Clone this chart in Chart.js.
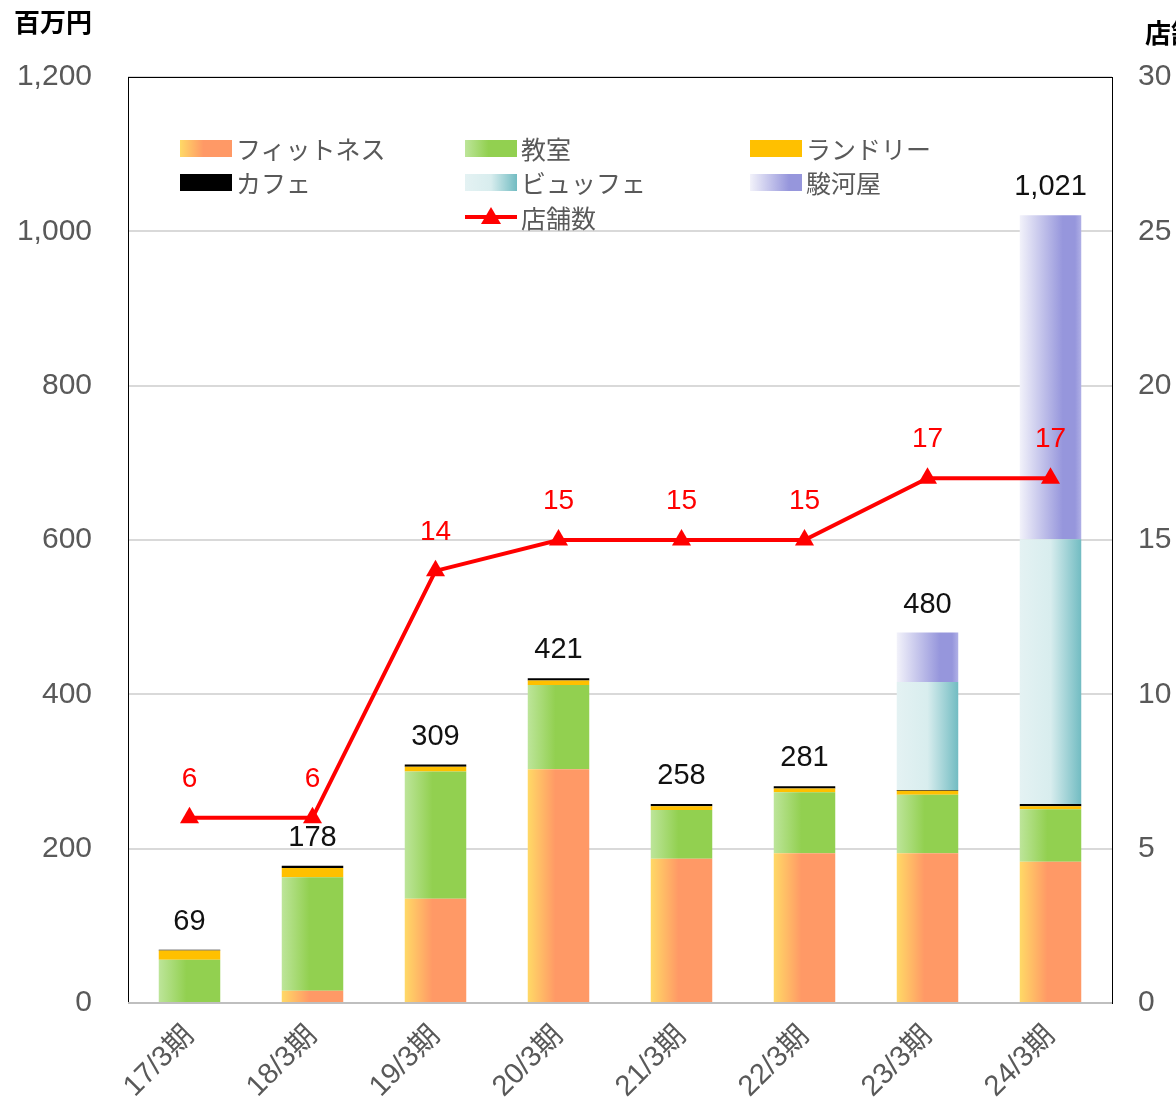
<!DOCTYPE html>
<html lang="ja">
<head>
<meta charset="utf-8">
<script src="https://cdn.jsdelivr.net/npm/chart.js@4/dist/chart.umd.min.js"></script>
<style>
  body { margin: 0; background: #fff; }
  #wrap { position: relative; width: 1176px; height: 1114px; overflow: hidden; }
  #legend { position: absolute; left: 0; top: 0; }
  .lg-item { position: absolute; display: flex; align-items: center; height: 30px;
    font-family: "Noto Sans CJK JP", "Noto Sans", sans-serif; font-size: 25px; color: #595959; line-height: 1; white-space: nowrap; }
  .lg-box { width: 52px; height: 17px; margin-right: 4px; }
  .lg-line { width: 52px; height: 30px; margin-right: 4px; }
</style>
</head>
<body>
<div id="wrap">
  <canvas id="chart" width="1176" height="1114"></canvas>
  <div id="legend"></div>
</div>
<script>
// periods and values (百万円)
const periods = ['17/3期', '18/3期', '19/3期', '20/3期', '21/3期', '22/3期', '23/3期', '24/3期'];
const fitness = [0, 16, 135, 303, 187, 194, 194, 183];
const classroom = [56, 147, 165, 109, 63, 79, 76, 68];
const laundry = [12, 12, 6, 6, 5, 5, 5, 4];
const cafe = [1, 3, 3, 3, 3, 3, 1, 3];
const buffet = [0, 0, 0, 0, 0, 0, 140, 343];
const suruga = [0, 0, 0, 0, 0, 0, 64, 420];
const totals = [69, 178, 309, 421, 258, 281, 480, 1021];
const storeCount = [6, 6, 14, 15, 15, 15, 17, 17];

const fontLatin = '"Liberation Sans", Arial, sans-serif';
const fontJp = '"Noto Sans CJK JP", sans-serif';
const fontMixed = '"Liberation Sans", "Noto Sans CJK JP", sans-serif';

const gradStops = {
    fitness: [[0, '#FFD966'], [0.45, '#FF9966'], [1, '#FF9966']],
    classroom: [[0, '#BDE59A'], [0.45, '#92D050'], [1, '#92D050']],
    buffet: [[0, '#E4F2F3'], [0.5, '#D8EDEE'], [1, '#72BCC2']],
    suruga: [[0, '#F2F2FA'], [0.7, '#9696DC'], [0.9, '#9696DC'], [1, '#B0B0E6']]
};

function barGradient(stops) {
    return function(context) {
        const chart = context.chart;
        const xs = chart.scales.x;
        if (!xs || context.dataIndex === undefined) {
            return stops[1][1];
        }
        const cx = xs.getPixelForValue(context.dataIndex);
        const w = (xs.width / periods.length) * 0.5;
        if (!isFinite(cx) || !isFinite(w) || w <= 0) {
            return stops[1][1];
        }
        const g = chart.ctx.createLinearGradient(cx - w / 2, 0, cx + w / 2, 0);
        stops.forEach(s => g.addColorStop(s[0], s[1]));
        return g;
    };
}

function barSet(label, data, color) {
    return {
        type: 'bar',
        label: label,
        data: data,
        backgroundColor: color,
        borderWidth: 0,
        yAxisID: 'y',
        stack: 'sales',
        barPercentage: 0.5,
        categoryPercentage: 1,
        order: 2
    };
}

// Frame, axis titles and value labels
const decorPlugin = {
    id: 'decor',
    beforeDatasetsDraw(chart) {
        const { ctx, chartArea: a } = chart;
        ctx.save();
        ctx.strokeStyle = '#000';
        ctx.lineWidth = 1;
        ctx.strokeRect(a.left + 0.5, a.top + 0.5, a.right - a.left, a.bottom - a.top);
        ctx.restore();
    },
    afterDatasetsDraw(chart) {
        const { ctx, chartArea: a } = chart;
        const xs = chart.scales.x, y = chart.scales.y, y1 = chart.scales.y1;
        ctx.save();
        // x axis line
        ctx.strokeStyle = '#BFBFBF';
        ctx.lineWidth = 2;
        ctx.beginPath();
        ctx.moveTo(a.left, a.bottom);
        ctx.lineTo(a.right, a.bottom);
        ctx.stroke();

        ctx.textAlign = 'center';
        ctx.textBaseline = 'middle';
        // totals above bars
        ctx.font = '29px ' + fontLatin;
        ctx.fillStyle = '#111';
        totals.forEach((t, i) => {
            ctx.fillText(t.toLocaleString('en-US'), xs.getPixelForValue(i), y.getPixelForValue(t) - 28);
        });
        // store counts above points
        ctx.font = '28px ' + fontLatin;
        ctx.fillStyle = '#FF0000';
        storeCount.forEach((n, i) => {
            ctx.fillText(String(n), xs.getPixelForValue(i), y1.getPixelForValue(n) - 39);
        });

        // axis titles
        ctx.fillStyle = '#000';
        ctx.font = 'bold 26px ' + fontJp;
        ctx.textAlign = 'left';
        ctx.fillText('百万円', 14, 22);
        ctx.fillText('店舗数', 1145, 33);
        ctx.restore();
    }
};

const chart = new Chart(document.getElementById('chart'), {
    data: {
        labels: periods,
        datasets: [
            barSet('フィットネス', fitness, barGradient(gradStops.fitness)),
            barSet('教室', classroom, barGradient(gradStops.classroom)),
            barSet('ランドリー', laundry, '#FFC000'),
            barSet('カフェ', cafe, '#000000'),
            barSet('ビュッフェ', buffet, barGradient(gradStops.buffet)),
            barSet('駿河屋', suruga, barGradient(gradStops.suruga)),
            {
                type: 'line',
                label: '店舗数',
                data: storeCount,
                yAxisID: 'y1',
                borderColor: '#FF0000',
                backgroundColor: '#FF0000',
                borderWidth: 4,
                pointStyle: 'triangle',
                pointRadius: 11,
                pointBorderWidth: 0,
                tension: 0,
                order: 0
            }
        ]
    },
    options: {
        responsive: false,
        animation: false,
        layout: { padding: { top: 77 } },
        plugins: {
            legend: { display: false },
            tooltip: { enabled: false }
        },
        scales: {
            x: {
                stacked: true,
                grid: { display: false, drawTicks: false },
                border: { display: false },
                ticks: {
                    color: '#595959',
                    font: { size: 29, family: fontMixed },
                    minRotation: 45,
                    maxRotation: 45,
                    padding: 16
                },
                afterFit(scale) { scale.height = 111; }
            },
            y: {
                stacked: true,
                position: 'left',
                min: 0,
                max: 1200,
                grid: { color: '#D9D9D9', lineWidth: 2, drawTicks: false },
                border: { display: false },
                ticks: {
                    stepSize: 200,
                    color: '#595959',
                    font: { size: 30, family: fontLatin },
                    padding: 36,
                    callback: v => v.toLocaleString('en-US')
                },
                afterFit(scale) { scale.width = 128; }
            },
            y1: {
                position: 'right',
                min: 0,
                max: 30,
                grid: { display: false, drawTicks: false },
                border: { display: false },
                ticks: {
                    stepSize: 5,
                    color: '#595959',
                    font: { size: 30, family: fontLatin },
                    padding: 26
                },
                afterFit(scale) { scale.width = 64; }
            }
        }
    },
    plugins: [decorPlugin]
});

// HTML legend placed like the original (3 columns, last item centred)
function generateLegend(chart) {
    const container = document.getElementById('legend');
    container.innerHTML = '';
    const cols = [180, 465, 750];
    const rows = [148, 182, 217];
    const swatchCss = {
        'フィットネス': 'linear-gradient(to right, #FFD966 0%, #FF9966 45%, #FF9966 100%)',
        '教室': 'linear-gradient(to right, #BDE59A 0%, #92D050 45%, #92D050 100%)',
        'ランドリー': '#FFC000',
        'カフェ': '#000000',
        'ビュッフェ': 'linear-gradient(to right, #E4F2F3 0%, #D8EDEE 50%, #72BCC2 100%)',
        '駿河屋': 'linear-gradient(to right, #F2F2FA 0%, #9696DC 75%, #9696DC 100%)'
    };
    chart.data.datasets.forEach((ds, i) => {
        const slot = i < 6 ? { c: i % 3, r: Math.floor(i / 3) } : { c: 1, r: 2 };
        const item = document.createElement('div');
        item.className = 'lg-item';
        item.style.left = cols[slot.c] + 'px';
        item.style.top = (rows[slot.r] - 15) + 'px';
        if (ds.type === 'line') {
            item.innerHTML = '<svg class="lg-line" viewBox="0 0 52 30"><line x1="0" y1="15" x2="52" y2="15" stroke="#FF0000" stroke-width="4"/><polygon points="26,5 36,22 16,22" fill="#FF0000"/></svg>';
        } else {
            const box = document.createElement('span');
            box.className = 'lg-box';
            box.style.background = swatchCss[ds.label];
            item.appendChild(box);
        }
        const text = document.createElement('span');
        text.textContent = ds.label;
        item.appendChild(text);
        container.appendChild(item);
    });
}
generateLegend(chart);
</script>
</body>
</html>
